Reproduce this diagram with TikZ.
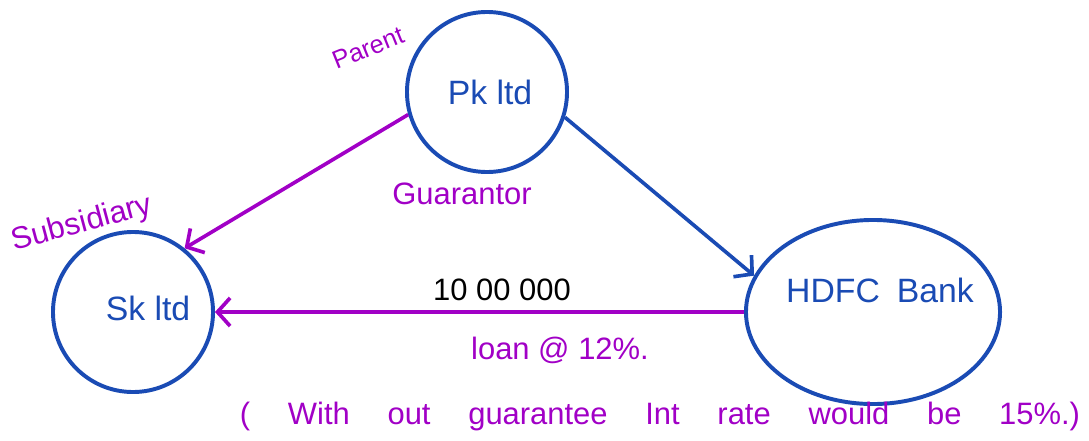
\documentclass[tikz,border=0pt]{standalone}
\usepackage{fontspec}
\setmainfont{Liberation Sans}
\usetikzlibrary{arrows.meta,shapes.geometric}
\definecolor{penblue}{HTML}{1A4BB4}
\definecolor{penpurple}{HTML}{A100C6}
\begin{document}
\begin{tikzpicture}[x=0.025cm,y=-0.025cm,
  party/.style={circle,draw=penblue,line width=2.8pt,minimum size=4cm,inner sep=0pt},
  bank/.style={ellipse,draw=penblue,line width=2.8pt,minimum width=6.35cm,minimum height=4.6cm,inner sep=0pt},
  partyname/.style={text=penblue,font=\fontsize{24}{28}\selectfont},
  penote/.style={text=penpurple,font=\fontsize{22}{26}\selectfont,inner sep=1pt},
  link/.style={line width=2.6pt,-{Straight Barb[length=9pt,width=20pt,line width=2.6pt]}}]
  \useasboundingbox (0,0) rectangle (1089,440);
  % parties
  \node[party] (pk) at (487,92) {};
  \node[party] (sk) at (133,312) {};
  \node[bank] (hdfc) at (873,312) {};
  \node[partyname] (pkname) at (490,92) {Pk ltd};
  \node[partyname] (skname) at (148,308) {Sk ltd};
  \node[partyname] (hdfcname) at (880,290) {HDFC\enspace Bank};
  % roles
  \node[penote,font=\fontsize{18}{22}\selectfont,rotate=22] (parent) at (368,48) {Parent};
  \node[penote,rotate=15] (subsidiary) at (82,224) {Subsidiary};
  \node[penote] (guarantor) at (462,194) {Guarantor};
  % links
  \draw[link,penpurple] (pk.196) -- (sk.51);
  \draw[link,penblue] (pk.-18) -- (hdfc.163);
  \draw[link,penpurple] (hdfc.west) -- (sk.east);
  \node[font=\fontsize{22}{26}\selectfont] (amount) at (502,290) {10 00 000};
  \node[penote] (loan) at (560,350) {loan @ 12\%.};
  \node[penote] (remark) at (660,416)
    {\hbox to 21cm{\spaceskip=0.3em plus 1fil ( With out guarantee Int rate would be 15\%.)}};
\end{tikzpicture}
\end{document}
